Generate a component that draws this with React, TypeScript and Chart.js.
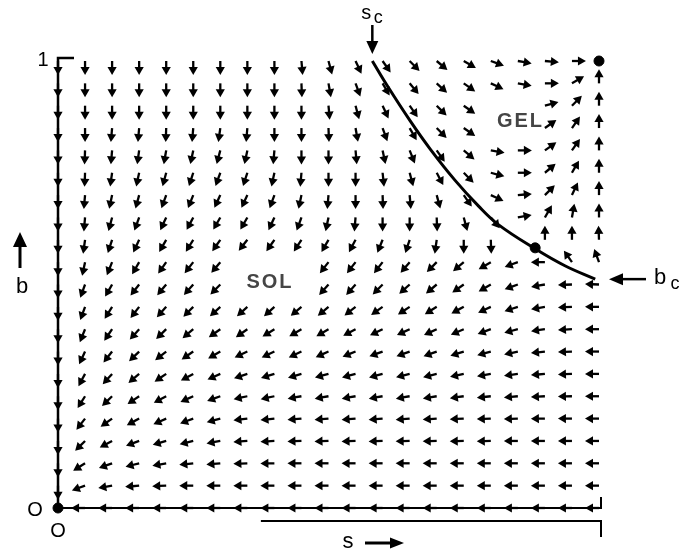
import React, { useEffect, useRef } from "react";
import { Chart, registerables } from "chart.js";

Chart.register(...registerables);

// ---- grid of the flow diagram (s across, b up) ----
const sColumns = [0, 0.05, 0.1, 0.15, 0.2, 0.25, 0.3, 0.35, 0.4, 0.45, 0.5, 0.55, 0.6, 0.65, 0.7, 0.75, 0.8, 0.85, 0.9, 0.95, 1.0];
const bRows = [1.0, 0.95, 0.9, 0.85, 0.8, 0.75, 0.7, 0.65, 0.6, 0.55, 0.5, 0.45, 0.4, 0.35, 0.3, 0.25, 0.2, 0.15, 0.1, 0.05, 0.0];

// arrow directions in degrees (0 = towards +s, 90 = towards +b); null = no arrow
const _ = null;
const rowB100 = [270, 270, 270, 270, 270, 270, 270, 270, 270, 275, 285, 295, 305, 315, 320, 330, 340, 350, 355, 0, _];
const rowB095 = [270, 270, 270, 270, 270, 270, 270, 270, 270, 272, 280, 290, 300, 310, 318, 325, 335, 350, 0, 30, 90];
const rowB090 = [270, 270, 270, 270, 270, 270, 270, 270, 270, 270, 275, 285, 295, 305, 315, 325, _, _, 15, 45, 90];
const rowB085 = [270, 270, 265, 265, 268, 265, 262, 265, 270, 270, 272, 280, 290, 300, 315, 325, _, _, 35, 55, 90];
const rowB080 = [270, 268, 265, 262, 260, 258, 255, 258, 265, 270, 270, 275, 282, 292, 305, 320, 350, 0, 35, 55, 90];
const rowB075 = [270, 268, 262, 258, 255, 252, 250, 252, 258, 265, 270, 270, 276, 285, 298, 315, 345, 0, 40, 60, 90];
const rowB070 = [270, 265, 258, 255, 250, 248, 245, 245, 250, 258, 265, 270, 272, 275, 285, 305, 335, 5, 45, 65, 90];
const rowB065 = [270, 265, 255, 250, 245, 242, 240, 240, 245, 250, 258, 265, 270, 270, 272, 285, 310, 10, 60, 80, 90];
const rowB060 = [270, 262, 252, 245, 240, 238, 235, 232, 235, 237, 240, 242, 248, 252, 262, 270, 272, _, 90, 90, 92];
const rowB055 = [270, 258, 248, 240, 235, 232, 230, _, _, _, 232, 232, 232, 230, 225, 220, 210, 200, 180, 125, 110];
const rowB050 = [270, 250, 240, 232, 230, 228, 225, _, _, _, 228, 228, 225, 222, 220, 215, 210, 200, 190, 182, 178];
const rowB045 = [270, 250, 238, 232, 228, 225, 222, 222, 222, 220, 220, 218, 215, 213, 212, 208, 205, 198, 190, 183, 180];
const rowB040 = [270, 248, 236, 228, 224, 220, 215, 215, 212, 210, 210, 208, 206, 205, 205, 203, 200, 195, 188, 183, 180];
const rowB035 = [270, 245, 232, 224, 218, 214, 210, 205, 205, 205, 204, 202, 200, 200, 200, 197, 195, 192, 186, 182, 180];
const rowB030 = [270, 242, 228, 220, 214, 208, 204, 198, 197, 196, 195, 195, 195, 194, 194, 192, 190, 188, 185, 182, 180];
const rowB025 = [270, 238, 224, 214, 208, 204, 200, 192, 192, 190, 190, 190, 190, 190, 189, 188, 186, 185, 183, 181, 180];
const rowB020 = [270, 232, 215, 208, 204, 200, 195, 187, 186, 185, 185, 185, 185, 185, 184, 183, 182, 182, 181, 180, 180];
const rowB015 = [270, 225, 208, 200, 196, 194, 190, 184, 183, 182, 182, 182, 182, 181, 181, 181, 181, 180, 180, 180, 180];
const rowB010 = [270, 212, 200, 194, 190, 186, 185, 182, 181, 180, 180, 180, 180, 180, 180, 180, 180, 180, 180, 180, 180];
const rowB005 = [270, 200, 190, 185, 182, 180, 180, 180, 180, 180, 180, 180, 180, 180, 180, 180, 180, 180, 180, 180, 180];
const rowB000 = [_, 180, 180, 180, 180, 180, 180, 180, 180, 180, 180, 180, 180, 180, 180, 180, 180, 180, 180, 180, 180];

const flowAngleRows = [
  rowB100, rowB095, rowB090, rowB085, rowB080, rowB075, rowB070, rowB065, rowB060, rowB055, rowB050,
  rowB045, rowB040, rowB035, rowB030, rowB025, rowB020, rowB015, rowB010, rowB005, rowB000,
];

// separatrix between SOL and GEL
const separatrixS = [0.581, 0.609, 0.651, 0.688, 0.734, 0.777, 0.814, 0.882, 0.937, 0.993];
const separatrixB = [1.0, 0.944, 0.866, 0.803, 0.733, 0.676, 0.634, 0.58, 0.542, 0.512];

// fixed points
const fixedS = [0, 1, 0.882];
const fixedB = [0, 1, 0.582];

const sCritical = 0.581;
const bCritical = 0.512;

const regionLabels = ["SOL", "GEL"];
const regionS = [0.39, 0.853];
const regionB = [0.505, 0.865];

const FONT = '"Liberation Sans", Arial, Helvetica, sans-serif';

function drawArrow(ctx: CanvasRenderingContext2D, x: number, y: number, deg: number, len: number, headLen: number, headHalf: number, lw: number) {
  const a = (deg * Math.PI) / 180;
  const dx = Math.cos(a);
  const dy = -Math.sin(a);
  const tx = x + dx * len;
  const ty = y + dy * len;
  const bx = tx - dx * headLen;
  const by = ty - dy * headLen;
  ctx.beginPath();
  ctx.moveTo(x, y);
  ctx.lineTo(bx + dx, by + dy);
  ctx.lineWidth = lw;
  ctx.stroke();
  const px = -dy;
  const py = dx;
  ctx.beginPath();
  ctx.moveTo(tx, ty);
  ctx.lineTo(bx + px * headHalf, by + py * headHalf);
  ctx.lineTo(bx - px * headHalf, by - py * headHalf);
  ctx.closePath();
  ctx.fill();
}

const flowPlugin = {
  id: "flowPlugin",
  beforeDatasetsDraw(chart: any) {
    const ctx: CanvasRenderingContext2D = chart.ctx;
    const xs = chart.scales.x;
    const ys = chart.scales.y;
    const x0 = xs.getPixelForValue(0);
    const x1 = xs.getPixelForValue(1);
    const y0 = ys.getPixelForValue(0);
    const y1 = ys.getPixelForValue(1);
    ctx.save();
    ctx.strokeStyle = "#000";
    ctx.fillStyle = "#000";
    // axes
    ctx.lineWidth = 2.5;
    ctx.beginPath();
    ctx.moveTo(x0, y0);
    ctx.lineTo(x0, y1 - 3);
    ctx.lineTo(x0 + 16, y1 - 3);
    ctx.stroke();
    ctx.lineWidth = 2;
    ctx.beginPath();
    ctx.moveTo(x0, y0);
    ctx.lineTo(x1 + 2, y0);
    ctx.lineTo(x1 + 2, y0 - 11);
    ctx.stroke();
    ctx.beginPath();
    ctx.moveTo(xs.getPixelForValue(0.375), y0 + 13);
    ctx.lineTo(x1 + 2, y0 + 13);
    ctx.lineTo(x1 + 2, y0 + 29);
    ctx.stroke();

    // flow arrows
    chart.data.datasets.forEach((ds: any, di: number) => {
      if (!ds.isFlow) return;
      const meta = chart.getDatasetMeta(di);
      meta.data.forEach((el: any, i: number) => {
        const raw = ds.data[i];
        drawArrow(ctx, el.x, el.y, raw.angle, 14, 8, 4.6, 2.3);
      });
    });
    ctx.restore();
  },
  afterDraw(chart: any) {
    const ctx: CanvasRenderingContext2D = chart.ctx;
    const xs = chart.scales.x;
    const ys = chart.scales.y;
    const x0 = xs.getPixelForValue(0);
    const x1 = xs.getPixelForValue(1);
    const y0 = ys.getPixelForValue(0);
    const y1 = ys.getPixelForValue(1);
    ctx.save();
    ctx.fillStyle = "#000";
    ctx.strokeStyle = "#000";
    ctx.textAlign = "center";
    ctx.textBaseline = "middle";
    ctx.font = `20px ${FONT}`;
    ctx.fillText("1", x0 - 15, y1 - 1);
    ctx.fillText("O", x0 - 23, y0 + 2);
    ctx.fillText("O", x0, y0 + 23);
    // b axis title
    ctx.font = `22px ${FONT}`;
    ctx.fillText("b", 22, 287);
    drawArrow(ctx, 20, 268, 90, 36, 15, 7, 3);
    // s axis title
    ctx.fillText("s", 348, 542);
    drawArrow(ctx, 365, 543, 0, 39, 14, 5.5, 3);

    // s_c marker
    const sx = xs.getPixelForValue(sCritical);
    drawArrow(ctx, sx, y1 - 36, 270, 29, 13, 6, 2.5);
    ctx.font = `20px ${FONT}`;
    ctx.fillText("s", sx - 6, 13);
    ctx.font = `18px ${FONT}`;
    ctx.fillText("c", sx + 6, 18);
    // b_c marker
    const by = ys.getPixelForValue(bCritical);
    drawArrow(ctx, x1 + 47, by, 180, 37, 14, 6, 2.5);
    ctx.font = `22px ${FONT}`;
    ctx.fillText("b", x1 + 61, by - 1);
    ctx.font = `18px ${FONT}`;
    ctx.fillText("c", x1 + 76, by + 5);

    // region labels
    ctx.font = `bold 20px ${FONT}`;
    ctx.fillStyle = "#454545";
    (ctx as any).letterSpacing = "2px";
    regionLabels.forEach((t, i) => {
      ctx.fillText(t, xs.getPixelForValue(regionS[i]) + 1, ys.getPixelForValue(regionB[i]));
    });
    ctx.restore();
  },
};

export default function App() {
  const ref = useRef<HTMLCanvasElement | null>(null);
  useEffect(() => {
    if (!ref.current) return;
    const flowPoints: any[] = [];
    flowAngleRows.forEach((row, j) => {
      row.forEach((ang, i) => {
        if (ang === null) return;
        flowPoints.push({ x: sColumns[i], y: bRows[j], angle: ang });
      });
    });
    const chart = new Chart(ref.current, {
      type: "scatter",
      data: {
        datasets: [
          {
            label: "separatrix",
            data: separatrixS.map((s, i) => ({ x: s, y: separatrixB[i] })),
            showLine: true,
            borderColor: "#000",
            borderWidth: 3,
            pointRadius: 0,
            tension: 0.4,
            clip: false,
          } as any,
          {
            label: "fixed points",
            data: fixedS.map((s, i) => ({ x: s, y: fixedB[i] })),
            pointRadius: 5,
            pointBackgroundColor: "#000",
            pointBorderColor: "#000",
            clip: false,
          } as any,
          {
            label: "flow",
            isFlow: true,
            data: flowPoints,
            pointRadius: 0,
            pointHoverRadius: 0,
            clip: false,
          } as any,
        ],
      },
      options: {
        animation: false,
        responsive: false,
        devicePixelRatio: 1,
        events: [],
        layout: { padding: { left: 58, right: 88, top: 61, bottom: 47 } },
        plugins: { legend: { display: false }, tooltip: { enabled: false } },
        scales: {
          x: { type: "linear", min: 0, max: 1, display: false },
          y: { type: "linear", min: 0, max: 1, display: false },
        },
      },
      plugins: [flowPlugin],
    });
    return () => chart.destroy();
  }, []);
  return (
    <div style={{ position: "absolute", left: 0, top: 0, width: 687, height: 555, background: "#fff" }}>
      <canvas ref={ref} width={687} height={555} style={{ display: "block", width: 687, height: 555 }} />
    </div>
  );
}
